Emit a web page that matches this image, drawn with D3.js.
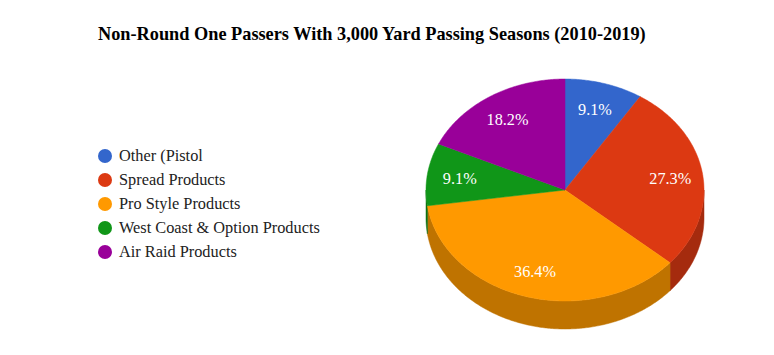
<!DOCTYPE html>
<html>
<head>
<meta charset="utf-8">
<script src="https://cdn.jsdelivr.net/npm/d3@7/dist/d3.min.js"></script>
<style>
  html, body { margin: 0; padding: 0; background: #fff; }
  svg { display: block; }
</style>
</head>
<body>
<svg id="chart" width="774" height="355"></svg>
<script>
// ---- data ----
const title = "Non-Round One Passers With 3,000 Yard Passing Seasons (2010-2019)";
const categories = ["Other (Pistol", "Spread Products", "Pro Style Products", "West Coast & Option Products", "Air Raid Products"];
const values = [1, 3, 4, 1, 2];
const colors = ["#3366cc", "#dc3912", "#ff9900", "#109618", "#990099"];

// ---- layout ----
const cx = 565, cy = 190, rx = 139, ry = 111, depth = 28;
const FONT = "'Liberation Serif', 'DejaVu Serif', serif";

const svg = d3.select("#chart");

function fitSize(sel, target, base) {
  const w = sel.node().getComputedTextLength();
  const s = base * target / w;
  sel.attr("font-size", s);
  return s;
}

// title
const t = svg.append("text")
  .attr("x", 98).attr("y", 40)
  .attr("font-family", FONT).attr("font-weight", "bold")
  .attr("font-size", 15).attr("fill", "#000")
  .text(title);
fitSize(t, 548, 15);

// pie
const total = d3.sum(values);
const pie = d3.pie().sort(null).value(d => d)(values);
const darker = c => { const k = d3.rgb(c); return d3.rgb(k.r * 0.75, k.g * 0.75, k.b * 0.75).toString(); };

const pt = (a, yOff = 0) => [cx + rx * Math.sin(a), cy - ry * Math.cos(a) + yOff];

function arcPoints(a0, a1, yOff) {
  const n = Math.max(2, Math.ceil(Math.abs(a1 - a0) / 0.01));
  return d3.range(n + 1).map(i => pt(a0 + (a1 - a0) * i / n, yOff));
}

const line = d3.line();

// side walls (front-facing part)
const gSide = svg.append("g");
pie.forEach((d, i) => {
  const a0 = Math.max(d.startAngle, Math.PI / 2);
  const a1 = Math.min(d.endAngle, 3 * Math.PI / 2);
  if (a1 <= a0) return;
  const top = arcPoints(a0, a1, 0);
  const bot = arcPoints(a1, a0, depth);
  gSide.append("path")
    .attr("d", line(top.concat(bot)) + "Z")
    .attr("fill", darker(colors[i]))
    .attr("stroke", darker(colors[i])).attr("stroke-width", 0.5);
});

// top faces
const gTop = svg.append("g");
pie.forEach((d, i) => {
  const pts = [[cx, cy]].concat(arcPoints(d.startAngle, d.endAngle, 0));
  gTop.append("path")
    .attr("d", line(pts) + "Z")
    .attr("fill", colors[i])
    .attr("stroke", colors[i]).attr("stroke-width", 0.5);
});

// labels
const fmt = v => (Math.round(v / total * 1000) / 10).toFixed(1) + "%";
const gLab = svg.append("g");
let labelSize = 14;
pie.forEach((d, i) => {
  const m = (d.startAngle + d.endAngle) / 2;
  const f = 0.765;
  const x = cx + rx * f * Math.sin(m);
  const y = cy - ry * f * Math.cos(m) + 1;
  const lt = gLab.append("text")
    .attr("x", x).attr("y", y)
    .attr("text-anchor", "middle")
    .attr("dominant-baseline", "central")
    .attr("font-family", FONT).attr("font-size", labelSize)
    .attr("fill", "#fff")
    .text(fmt(values[i]));
  if (i === 2) labelSize = fitSize(lt, 42, labelSize);
});
gLab.selectAll("text").attr("font-size", labelSize);

// legend
const lg = svg.append("g");
const legY = d3.scalePoint().domain(categories).range([156, 252]);
let legSize = 14;
categories.forEach((c, i) => {
  lg.append("circle").attr("cx", 105).attr("cy", legY(c)).attr("r", 7).attr("fill", colors[i]);
  const tx = lg.append("text")
    .attr("x", 119).attr("y", legY(c) + 5)
    .attr("font-family", FONT).attr("font-size", legSize)
    .attr("fill", "#222")
    .text(c);
  if (i === 3) legSize = fitSize(tx, 201, legSize);
});
lg.selectAll("text").attr("font-size", legSize);
</script>
</body>
</html>
